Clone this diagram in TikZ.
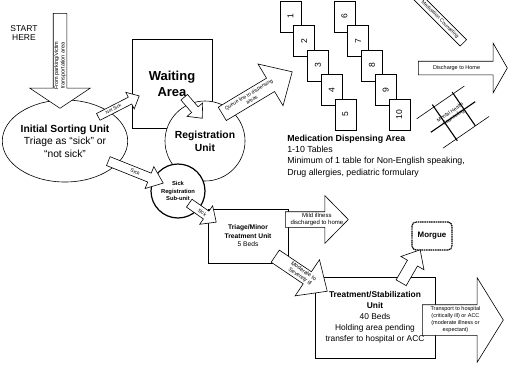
\documentclass[tikz,border=0pt]{standalone}
\usepackage{fontspec}
\setmainfont{Liberation Sans}
\usetikzlibrary{shapes.geometric,shapes.arrows,calc}

\tikzset{every picture/.style={line width=0.6pt}}
\tikzset{
  blockarrow/.style n args={5}{single arrow, draw, fill=white, anchor=tail, inner xsep=0pt, inner ysep=#2,
    minimum height=#1, minimum width=0pt, single arrow head extend=#3, single arrow tip angle=#4, rotate=#5},
  arrowlbl/.style={font=\fontsize{5.5}{6.5}\selectfont, align=center, inner sep=0pt},
  tablebox/.style={draw, fill=white, minimum width=21, minimum height=31, inner sep=0pt, font=\fontsize{8.5}{10}\selectfont},
  unitbox/.style={draw, fill=white, inner sep=0pt, align=center},
  thickbar/.style={line width=1.1pt},
}

\begin{document}
\begin{tikzpicture}[x=1pt,y=1pt,yscale=-1,xscale=1]
  \useasboundingbox (0,0) rectangle (508,364);
  \clip (0,0) rectangle (508,364);

  \node[align=center, inner sep=0pt, font=\fontsize{8.5}{9.5}\selectfont] (start) at (24,33) {START\\HERE};

  % areas
  \node[unitbox, minimum width=80, minimum height=89, font=\bfseries\fontsize{13}{16}\selectfont] (waiting) at (172,83.5) {Waiting\\Area};
  \node[unitbox, circle, minimum size=80, font=\bfseries\fontsize{10.3}{13}\selectfont] (registration) at (205,141) {Registration\\Unit};
  \node[unitbox, ellipse, minimum width=120, minimum height=82, font=\fontsize{10.3}{12.5}\selectfont] (sorting) at (65,141) {\textbf{Initial Sorting Unit}\\Triage as ``sick'' or\\``not sick''};
  \node[unitbox, circle, line width=1.2pt, minimum size=54, font=\bfseries\fontsize{5.8}{7.2}\selectfont] (subunit) at (178,191) {Sick\\Registration\\Sub-unit};
  \node[unitbox, minimum width=80, minimum height=54, font=\fontsize{6.7}{8.5}\selectfont] (triage) at (248,236) {\textbf{Triage/Minor}\\\textbf{Treatment Unit}\\5 Beds};
  \node[unitbox, minimum width=120, minimum height=81] (treatment) at (375,317.5) {};
  \node[unitbox, rounded corners=4pt, line width=1.2pt, dash pattern=on 1.2pt off 0.6pt, minimum width=40, minimum height=28, font=\bfseries\fontsize{7.9}{9}\selectfont] (morgue) at (432,236) {Morgue};

  % dispensing tables
  \foreach \i in {1,...,5}{
    \pgfmathtruncatemacro{\j}{\i+5}
    \node[tablebox] (t\i) at ({290.5+13.7*(\i-1)},{16.5+24.5*(\i-1)}) {\rotatebox{90}{\i}};
    \node[tablebox] (t\j) at ({344.5+13.7*(\i-1)},{16.5+24.5*(\i-1)}) {\rotatebox{90}{\j}};
  }
  \node[anchor=north west, align=left, inner sep=0pt, font=\fontsize{8.8}{11.3}\selectfont] (dispensing) at (287,134.5) {\textbf{Medication Dispensing Area}\\1-10 Tables\\Minimum of 1 table for Non-English speaking,\\Drug allergies, pediatric formulary};

  \node[draw, fill=white, rotate=-45, minimum width=66, minimum height=9, inner sep=0pt, font=\fontsize{5}{6}\selectfont] (medcouns) at (440,19.5) {Medication Counseling};

  % mental health counseling
  \draw (416.7,118.8) -- (464.4,86);
  \draw (442.9,148.2) -- (489,116.5);
  \draw[thickbar] (430.8,132.3) -- (475.2,101.7);
  \draw[thickbar] (432.3,104.6) -- (457.3,140.8);
  \draw[thickbar] (452.2,92.1) -- (475.4,125.9);
  \node[arrowlbl, font=\fontsize{5}{6}\selectfont, rotate=34.5] (mental) at (452,115) {Mental Health\\Counseling};

  % flow arrows
  \node[blockarrow={95}{6.5}{23.5}{112.6}{-90}] (startarr) at (60,13) {};
  \node[arrowlbl, rotate=90] (startlbl) at ($(startarr.tail)!0.55!(startarr.tip)$) {From parking/victim\\transportation area};

  \node[blockarrow={46}{3.5}{5.5}{84}{27.1}] (notsick) at (98,117) {};
  \node[arrowlbl, font=\fontsize{4.5}{5}\selectfont, rotate=27.1] (notsicklbl) at ($(notsick.tail)!0.37!(notsick.tip)$) {Not Sick};

  \node[blockarrow={27.7}{4}{6}{84.6}{-49.4}] (toreg) at (184,97) {};

  \node[blockarrow={81.6}{7.5}{16.5}{87.7}{31}] (queue) at (222,114) {};
  \node[arrowlbl, font=\fontsize{5}{6}\selectfont, rotate=31] (queuelbl) at ($(queue.tail)!0.4!(queue.tip)$) {Queue line to dispensing\\areas};

  \node[blockarrow={89}{6.5}{18}{120.5}{0}] (home) at (418,68) {};
  \node[arrowlbl] (homelbl) at ($(home.tail)!0.43!(home.tip)$) {Discharge to Home};

  \node[blockarrow={59.2}{4.5}{7}{76.9}{-21.8}] (sickone) at (108,161) {};
  \node[arrowlbl, font=\fontsize{5}{6}\selectfont, rotate=-21.8] (sickonelbl) at ($(sickone.tail)!0.49!(sickone.tip)$) {Sick};

  \node[blockarrow={33}{4.5}{6.5}{85}{-35.1}] (sicktwo) at (189,203) {};
  \node[arrowlbl, font=\fontsize{5}{6}\selectfont, rotate=-35.1] (sicktwolbl) at ($(sicktwo.tail)!0.48!(sicktwo.tip)$) {Sick};

  \node[blockarrow={63}{7.5}{16}{91}{0}] (mild) at (285,219.5) {};
  \node[arrowlbl, font=\fontsize{6}{7.5}\selectfont] (mildlbl) at ($(mild.tail)!0.5!(mild.tip)$) {Mild illness\\discharged to home};

  \node[blockarrow={62.7}{7}{14.5}{84.4}{-34}] (moderate) at (275,256) {};
  \node[arrowlbl, rotate=-34] (moderatelbl) at ($(moderate.tail)!0.51!(moderate.tip)$) {Moderate to\\Severely ill};

  \node[blockarrow={38}{5.5}{7.5}{81.8}{60}] (tomorgue) at (401,283) {};

  \node[blockarrow={81}{15}{27}{116.5}{0}] (transport) at (422,320) {};
  \node[arrowlbl, font=\fontsize{5.5}{7}\selectfont] (transportlbl) at ($(transport.tail)!0.41!(transport.tip)$) {Transport to hospital\\(critically ill) or ACC\\(moderate illness or\\expectant)};

  \node[align=center, inner sep=0pt, font=\fontsize{8.4}{11}\selectfont] (treatmentlbl) at (treatment.center) {\textbf{Treatment/Stabilization}\\\textbf{Unit}\\40 Beds\\Holding area pending\\transfer to hospital or ACC};
\end{tikzpicture}
\end{document}
